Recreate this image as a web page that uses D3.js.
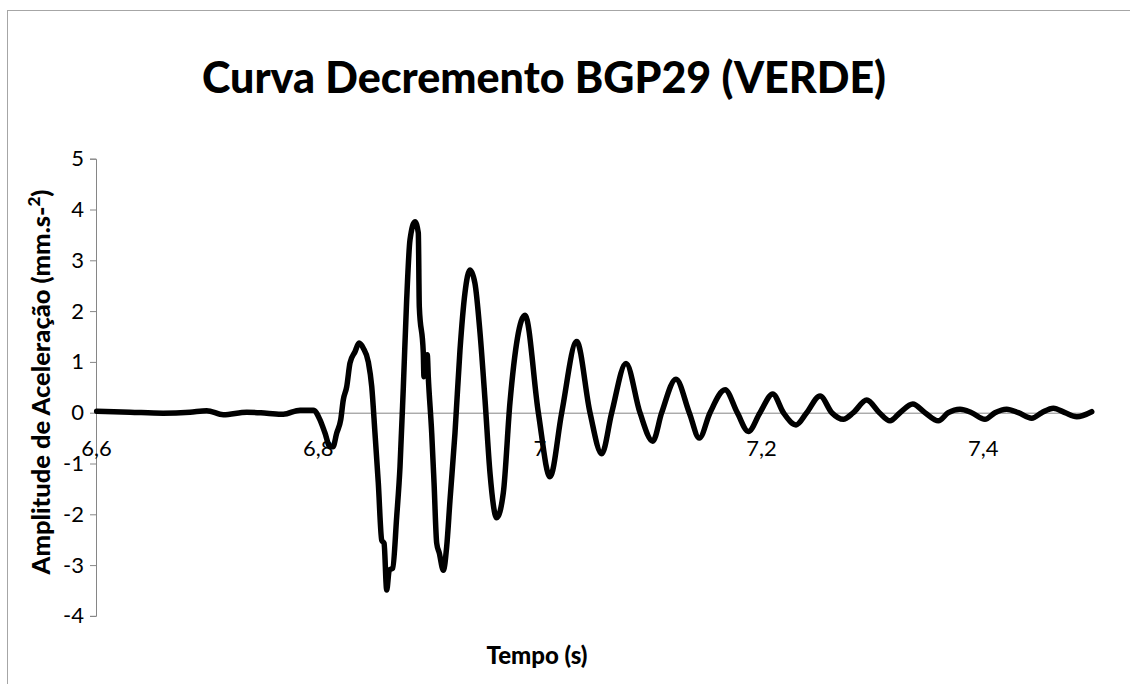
<!DOCTYPE html>
<html>
<head>
<meta charset="utf-8">
<script src="https://cdn.jsdelivr.net/npm/d3@7"></script>
<style>
  body { margin: 0; background: #fff; }
  text { font-family: Lato, "Open Sans", sans-serif; }
</style>
</head>
<body>
<div id="chart"></div>
<script>
// valores (tempo em s, amplitude em mm.s-2)
var tempo = [
  6.6006, 6.6307, 6.6605, 6.6848, 6.6999, 6.7149, 6.7360, 6.7540, 6.7690, 6.7841, 6.7961,
  6.8021, 6.8066, 6.8111, 6.8138, 6.8172, 6.8208, 6.8231, 6.8262, 6.8292, 6.8337, 6.8373,
  6.8412, 6.8457, 6.8488, 6.8517, 6.8547, 6.8578, 6.8599, 6.8623, 6.8646, 6.8677, 6.8713,
  6.8743, 6.8773, 6.8803, 6.8833, 6.8878, 6.8908, 6.8917, 6.8953, 6.8959, 6.8989, 6.8998,
  6.9029, 6.9050, 6.9074, 6.9097, 6.9134, 6.9164, 6.9194, 6.9239, 6.9284, 6.9329, 6.9374,
  6.9419, 6.9465, 6.9510, 6.9555, 6.9615, 6.9675, 6.9735, 6.9871, 6.9991, 7.0096,
  7.0202, 7.0337, 7.0457, 7.0563, 7.0653, 7.0782, 7.0908, 7.1023, 7.1104, 7.1233, 7.1353,
  7.1443, 7.1540, 7.1676, 7.1786, 7.1886, 7.1991, 7.2106, 7.2202, 7.2316, 7.2412, 7.2533,
  7.2639, 7.2743, 7.2833, 7.2954, 7.3068, 7.3164, 7.3254, 7.3369, 7.3480, 7.3600, 7.3690,
  7.3796, 7.3901, 7.4021, 7.4111, 7.4217, 7.4322, 7.4443, 7.4533, 7.4638, 7.4743, 7.4849,
  7.4984
];
var amplitude = [
  0.03, 0.01, -0.01, 0.01, 0.04, -0.04, 0.01, -0.01, -0.03, 0.05, 0.05,
  -0.14, -0.40, -0.67, -0.67, -0.40, -0.14, 0.25, 0.51, 0.98, 1.20, 1.37,
  1.27, 1.00, 0.51, -0.40, -1.38, -2.51, -2.57, -3.49, -3.10, -3.06, -2.05,
  -1.06, 0.51, 2.22, 3.40, 3.76, 3.54, 2.09, 1.18, 0.71, 1.14, 0.71,
  -0.40, -1.38, -2.57, -2.76, -3.10, -2.64, -1.72, -0.40, 1.23, 2.36, 2.81,
  2.55, 1.57, 0.25, -1.19, -2.07, -1.58, 0.20, 1.92, 0.0, -1.26,
  0.0, 1.40, 0.0, -0.81, 0.0, 0.97, 0.0, -0.56, 0.0, 0.66, 0.0,
  -0.50, 0.0, 0.45, 0.0, -0.37, 0.0, 0.37, 0.0, -0.24, 0.0, 0.33,
  0.0, -0.13, 0.0, 0.25, 0.0, -0.16, 0.0, 0.17, 0.0, -0.16, 0.0,
  0.07, 0.0, -0.13, 0.0, 0.07, 0.0, -0.11, 0.0, 0.09, 0.0, -0.08,
  0.02
];
var xTicks = [6.6, 6.8, 7.0, 7.2, 7.4];
var yTicks = [-4, -3, -2, -1, 0, 1, 2, 3, 4, 5];

var W = 1130, H = 684;

var svg = d3.select('#chart')
  .append('svg')
    .attr('width', W)
    .attr('height', H);

// moldura do grafico
svg.append('rect')
  .attr('x', 7.5).attr('y', 10.5)
  .attr('width', W + 20).attr('height', H + 20)
  .attr('fill', 'none')
  .attr('stroke', '#a6a6a6')
  .attr('stroke-width', 1);

var x = d3.scaleLinear().domain([6.6, 7.5]).range([96, 1093.5]);
var y = d3.scaleLinear().domain([-4, 5]).range([615.9, 158.7]);

var fmt = d => String(Math.round(d * 10) / 10).replace('.', ',');

// eixo y
var yAxis = svg.append('g')
  .attr('transform', 'translate(' + x(6.6) + ',0)')
  .call(d3.axisLeft(y).tickValues(yTicks).tickSize(6).tickPadding(6)
    .tickFormat(d => String(d).replace('\u2212', '-')));
yAxis.selectAll('path, line').attr('stroke', '#868686');
yAxis.selectAll('text').attr('font-size', 22).attr('fill', '#000')
  .style('font-family', 'Lato, sans-serif');

// eixo x (cruza em zero)
var xAxis = svg.append('g')
  .attr('transform', 'translate(0,' + y(0) + ')')
  .call(d3.axisBottom(x).tickValues(xTicks).tickSize(0).tickPadding(28).tickFormat(fmt));
xAxis.select('.domain').attr('stroke', '#868686');
xAxis.selectAll('text').attr('font-size', 22).attr('fill', '#000')
  .style('font-family', 'Lato, sans-serif');

// curva
var line = d3.line()
  .x((d, i) => x(tempo[i]))
  .y(d => y(d))
  .curve(d3.curveMonotoneX);

svg.append('path')
  .datum(amplitude)
  .attr('d', line)
  .attr('fill', 'none')
  .attr('stroke', '#000')
  .attr('stroke-width', 5.5)
  .attr('stroke-linejoin', 'round')
  .attr('stroke-linecap', 'round');

// titulos
svg.append('text')
  .attr('x', 544).attr('y', 93)
  .attr('text-anchor', 'middle')
  .attr('font-size', 43).attr('font-weight', 900)
  .text('Curva Decremento BGP29 (VERDE)');

svg.append('text')
  .attr('x', 537).attr('y', 664)
  .attr('text-anchor', 'middle')
  .attr('font-size', 24).attr('font-weight', 900)
  .text('Tempo (s)');

var yt = svg.append('text')
  .attr('transform', 'translate(50,382) rotate(-90)')
  .attr('text-anchor', 'middle')
  .attr('font-size', 25.5).attr('font-weight', 900);
yt.append('tspan').text('Amplitude de Aceleração (mm.s-');
yt.append('tspan').attr('font-size', 17).attr('dy', -10).text('2');
yt.append('tspan').attr('dy', 10).text(')');
</script>
</body>
</html>
